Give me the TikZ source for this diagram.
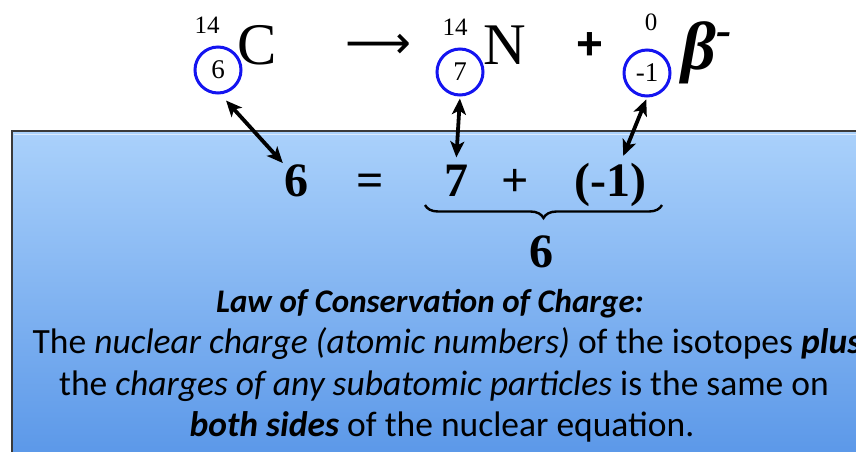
\documentclass[tikz,border=0pt]{standalone}
\usepackage{fontspec}
\setmainfont{Liberation Serif}
\newfontfamily\lawfont{Carlito}
\newfontfamily\plusfont{Liberation Sans}
\newfontfamily\arrowfont{DejaVu Sans}
\usetikzlibrary{arrows.meta,positioning,decorations.pathreplacing}
\definecolor{PanelTop}{HTML}{AAD1FB}
\definecolor{PanelBottom}{HTML}{5A97E8}
\definecolor{PanelEdge}{HTML}{3A3A3A}
\definecolor{RingBlue}{HTML}{1414F0}

\begin{document}
\begin{tikzpicture}[
  x=1pt, y=-1pt,
  nuclide/.style={
    font=\fontsize{59}{59}\selectfont,
    inner sep=0pt
  },
  massnum/.style={
    font=\fontsize{25}{25}\selectfont,
    inner sep=0pt
  },
  ring/.style={
    circle,
    draw=RingBlue,
    line width=3pt,
    minimum size=46pt,
    inner sep=0pt,
    font=\fontsize{27}{27}\selectfont
  },
  sumterm/.style={
    font=\fontsize{48}{48}\selectfont\bfseries,
    inner sep=1pt,
    anchor=base
  },
  lawline/.style={
    font=\lawfont\fontsize{35.5}{40}\selectfont,
    inner sep=0pt,
    anchor=base
  },
  link/.style={
    {Stealth[length=16pt,width=14pt,inset=4pt]}-{Stealth[length=16pt,width=14pt,inset=4pt]},
    line width=3.8pt
  },
  sumbrace/.style={
    decorate,
    decoration={brace, mirror, amplitude=13pt},
    line width=2.4pt
  }
]
\useasboundingbox (0,0) rectangle (856,451);
\clip (0,0) rectangle (856,451);

% Panel
\fill[top color=PanelTop, bottom color=PanelBottom]
  (12,131) rectangle (870,460);
\draw[white!55!PanelTop, line width=1.5pt] (14,134.5) -- (870,134.5);
\draw[PanelEdge, line width=2pt] (12,460) -- (12,131) -- (870,131);

% Nuclear equation
\node[massnum] (massC) at (207,25) {14};
\node[ring] (zC) at (218,70) {6};
\node[nuclide] (symC) at (257,45) {C};

\node[inner sep=0pt, font=\arrowfont\fontsize{46}{46}\selectfont]
  (yields) at (378,46) {⟶};

\node[massnum] (massN) at (455,27) {14};
\node[ring] (zN) at (460,72) {7};
\node[nuclide] (symN) at (505,45) {N};

\node[inner sep=0pt, font=\plusfont\bfseries\fontsize{46}{46}\selectfont]
  (plusTop) at (590,46) {+};

\node[massnum] (massB) at (651,22) {0};
\node[ring] (zB) at (647,73) {-1};
\node[nuclide, font=\fontsize{68}{68}\selectfont\bfseries\itshape]
  (symB) at (707,53) {β\raisebox{0.36em}{\fontsize{46}{46}\selectfont -}};

% Charge sum
\node[sumterm] (lhs) at (296,196) {6};
\node[sumterm] (equals) at (370,196) {=};
\node[sumterm] (rhsN) at (456,196) {7};
\node[sumterm] (rhsPlus) at (515,196) {+};
\node[sumterm] (rhsB) at (610,196) {(-1)};

\coordinate (braceL) at (425,205);
\coordinate (braceR) at (662,205);
\draw[sumbrace] (braceL) -- (braceR);
\node[sumterm] (total) at (541,267) {6};

% Connections
\draw[link] ([shift={(8,6)}]zC.south) -- (lhs.north west);
\draw[link, shorten <=2pt, shorten >=6pt] (zN.south) -- (rhsN.north);
\draw[link, shorten <=2pt, shorten >=6pt] (zB.south) -- ([xshift=11pt]rhsB.north);

% Law text
\node[lawline, font=\lawfont\bfseries\itshape\fontsize{33}{40}\selectfont]
  (lawTitle) at (430,312) {Law of Conservation of Charge:};
\node[lawline] (lawOne) at (447,353)
  {The \textit{nuclear charge (atomic numbers)} of the isotopes \textbf{\textit{plus}}};
\node[lawline] (lawTwo) at (444,395)
  {the \textit{charges of any subatomic particles} is the same on};
\node[lawline] (lawThree) at (442,436)
  {\textbf{\textit{both sides}} of the nuclear equation.};

\end{tikzpicture}
\end{document}
